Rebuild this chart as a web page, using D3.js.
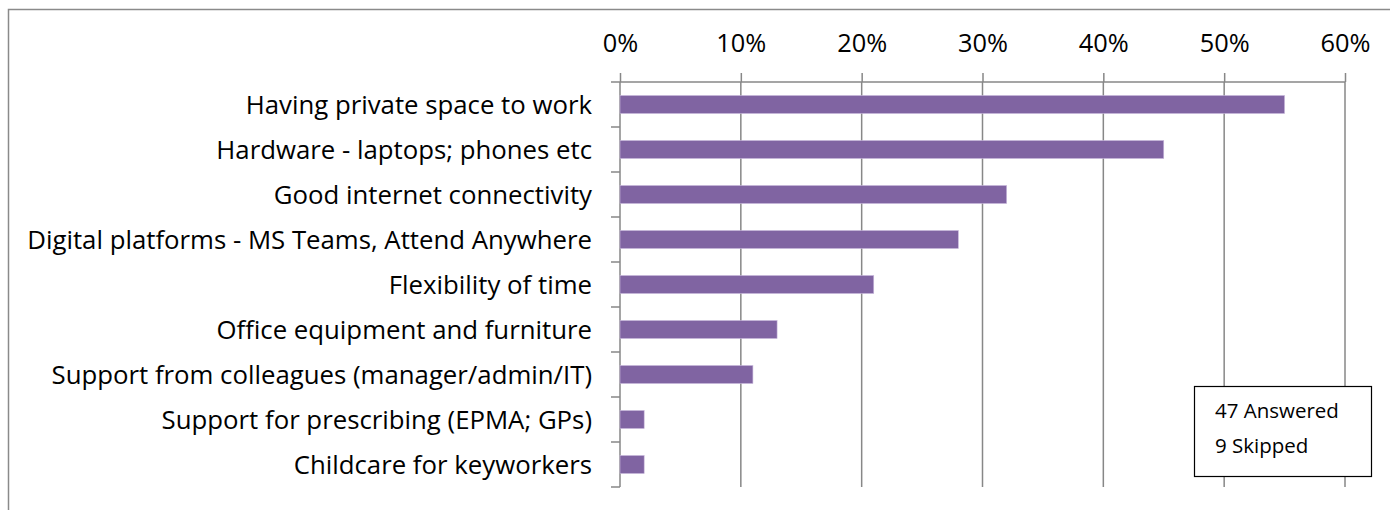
<!DOCTYPE html>
<html>
<head>
<meta charset="utf-8">
<script src="https://cdn.jsdelivr.net/npm/d3@7"></script>
<style>
  html, body { margin: 0; padding: 0; background: #fff; }
  svg { display: block; }
  text { font-family: "Open Sans", "Noto Sans", sans-serif; fill: #000; }
</style>
</head>
<body>
<svg id="chart" width="1390" height="510"></svg>
<script>
// Survey: what helped people work remotely (share of respondents, %)
const categories = [
  "Having private space to work",
  "Hardware - laptops; phones etc",
  "Good internet connectivity",
  "Digital platforms - MS Teams, Attend Anywhere",
  "Flexibility of time",
  "Office equipment and furniture",
  "Support from colleagues (manager/admin/IT)",
  "Support for prescribing (EPMA; GPs)",
  "Childcare for keyworkers"
];
const values = [55, 45, 32, 28, 21, 13, 11, 2, 2];
const tickValues = [0, 10, 20, 30, 40, 50, 60];
const noteLines = ["47 Answered", "9 Skipped"];

const svg = d3.select("#chart");
const W = 1390, H = 510;

const plot = { left: 620, right: 1345, top: 82, bottom: 487 };

const x = d3.scaleLinear().domain([0, 60]).range([plot.left, plot.right]);
const y = d3.scaleBand().domain(categories).range([plot.top, plot.bottom])
  .paddingInner(0.6).paddingOuter(0.3);

const gridColor = "#878787";
const barColor = "#8064A2";

// Chart area frame (only top and left edges fall inside the canvas)
svg.append("path")
  .attr("d", `M8.5,${H} L8.5,9.5 L${W},9.5`)
  .attr("fill", "none").attr("stroke", "#8a8a8a").attr("stroke-width", 1.5);

// Fit a font size so that a given string spans a target width
function fitSize(str, target, family) {
  const t = svg.append("text").attr("font-size", 100).style("font-family", family).text(str);
  const w = t.node().getComputedTextLength();
  t.remove();
  return 100 * target / w;
}
const fam = '"Open Sans", "Noto Sans", sans-serif';
const labelSize = fitSize(categories[3], 565, fam);
const tickSize = fitSize("60%", 50, fam);
const noteSize = fitSize(noteLines[0], 124, fam);

// Vertical gridlines
svg.append("g").selectAll("line")
  .data(tickValues.slice(1))
  .join("line")
  .attr("x1", d => x(d)).attr("x2", d => x(d))
  .attr("y1", plot.top).attr("y2", plot.bottom)
  .attr("stroke", gridColor).attr("stroke-width", 1.5);

// Top value axis
const xAxis = d3.axisTop(x)
  .tickValues(tickValues)
  .tickSize(9)
  .tickSizeOuter(0)
  .tickPadding(21)
  .tickFormat(d => d + "%");
const gx = svg.append("g").attr("transform", `translate(0,${plot.top})`).call(xAxis);
gx.select(".domain").remove();
gx.selectAll(".tick line").attr("stroke", gridColor).attr("stroke-width", 1.5);
gx.selectAll(".tick text")
  .attr("font-size", tickSize)
  .style("font-family", fam)
  .attr("fill", "#000");
gx.append("line")
  .attr("x1", plot.left - 9).attr("x2", plot.right)
  .attr("y1", 0).attr("y2", 0)
  .attr("stroke", gridColor).attr("stroke-width", 1.5);

// Category axis: line plus tick marks at band boundaries
const boundaries = d3.range(categories.length + 1).map(i => plot.top + i * (plot.bottom - plot.top) / categories.length);
svg.append("line")
  .attr("x1", plot.left).attr("x2", plot.left)
  .attr("y1", plot.top).attr("y2", plot.bottom)
  .attr("stroke", gridColor).attr("stroke-width", 1.5);
svg.append("g").selectAll("line")
  .data(boundaries.slice(1))
  .join("line")
  .attr("x1", plot.left - 9).attr("x2", plot.left)
  .attr("y1", d => d).attr("y2", d => d)
  .attr("stroke", gridColor).attr("stroke-width", 1.5);

// Category labels
svg.append("g").selectAll("text")
  .data(categories)
  .join("text")
  .attr("x", 592)
  .attr("y", d => y(d) + y.bandwidth() / 2)
  .attr("dy", "0.35em")
  .attr("text-anchor", "end")
  .attr("font-size", labelSize)
  .style("font-family", fam)
  .text(d => d);

// Bars
svg.append("g").selectAll("rect")
  .data(values)
  .join("rect")
  .attr("x", x(0))
  .attr("y", (d, i) => y(categories[i]))
  .attr("width", d => x(d) - x(0))
  .attr("height", y.bandwidth())
  .attr("fill", barColor)
  .attr("stroke", "#c9b8dc")
  .attr("stroke-width", 0.6);

// Response count note
const note = svg.append("g");
note.append("rect")
  .attr("x", 1194.5).attr("y", 386.5)
  .attr("width", 177).attr("height", 90)
  .attr("fill", "#fff").attr("stroke", "#000").attr("stroke-width", 1.2);
note.selectAll("text")
  .data(noteLines)
  .join("text")
  .attr("x", 1215)
  .attr("y", (d, i) => 418 + i * 35)
  .attr("font-size", noteSize)
  .style("font-family", fam)
  .text(d => d);
</script>
</body>
</html>
